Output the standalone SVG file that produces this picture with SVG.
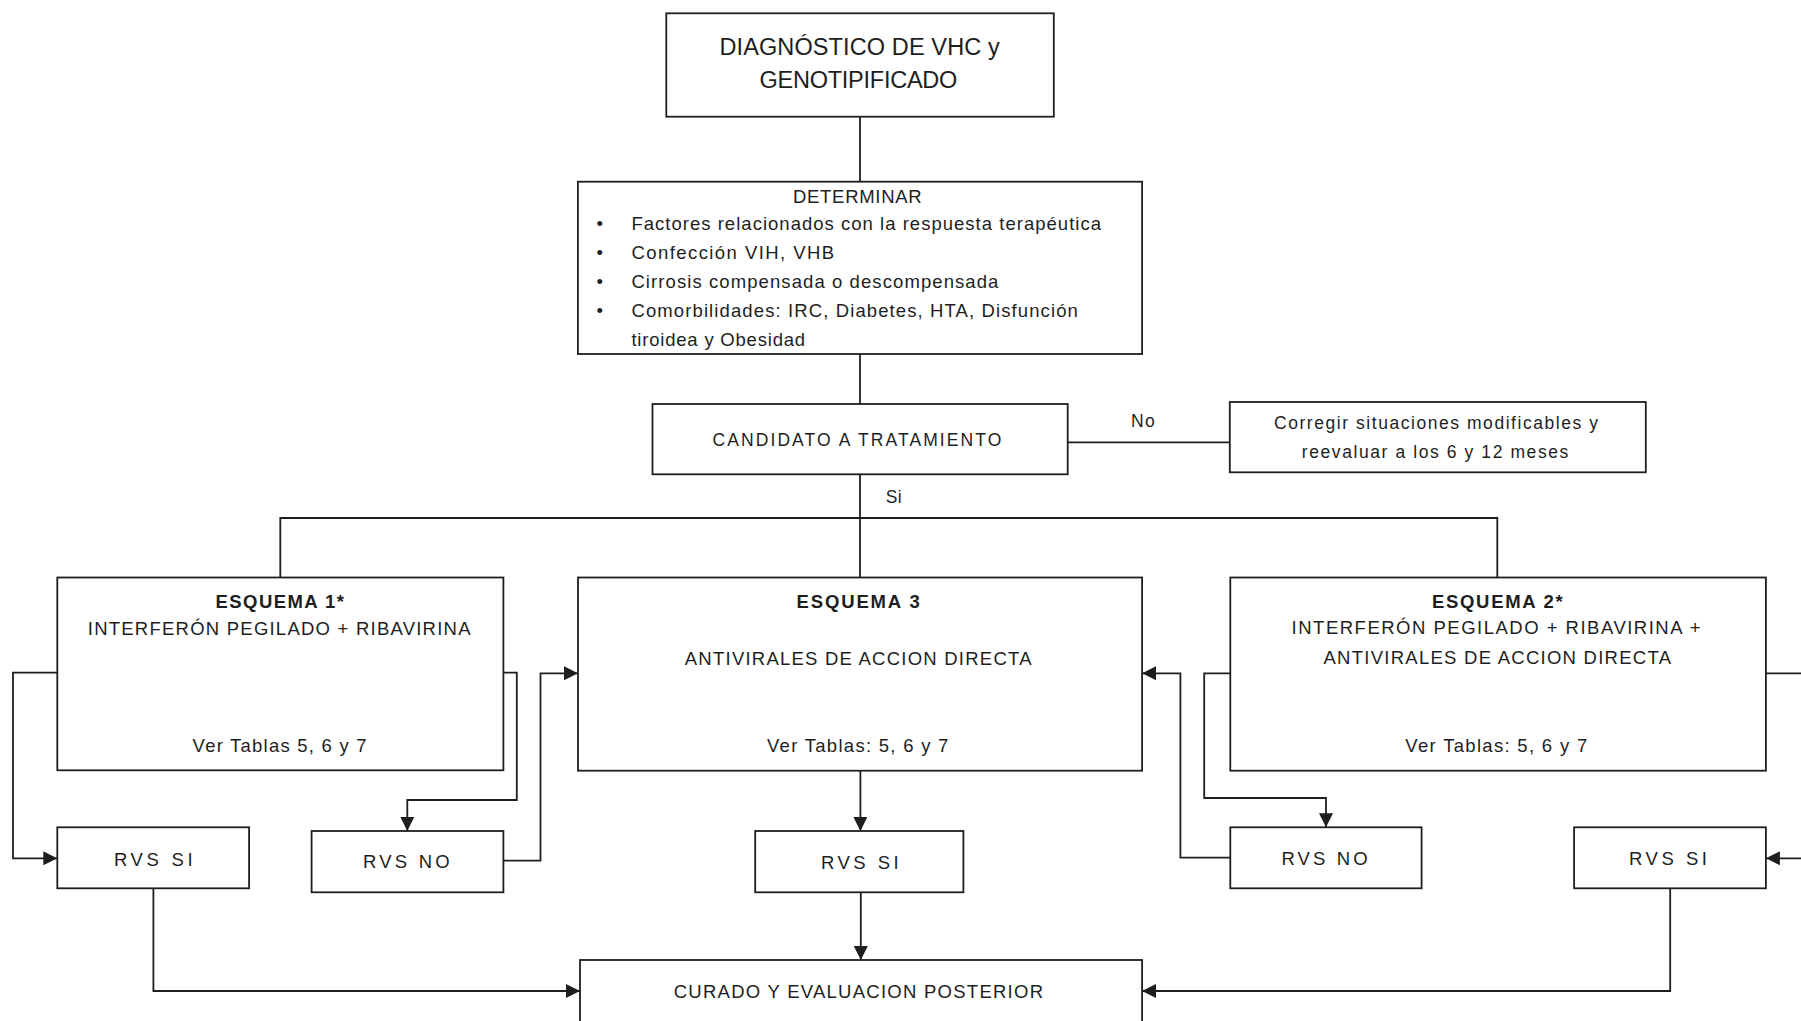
<svg xmlns="http://www.w3.org/2000/svg" width="1801" height="1021" viewBox="0 0 1801 1021">
  <style>
    .box { fill: #ffffff; stroke: #1e1e1e; stroke-width: 1.8; }
    .link { fill: none; stroke: #1e1e1e; stroke-width: 1.8; }
    .arrow { fill: none; stroke: #1e1e1e; stroke-width: 1.8; marker-end: url(#head); }
    text { font-family: "Liberation Sans", Arial, sans-serif; fill: #1e1e1e; }
    .big { font-size: 23.5px; }
    .t { font-size: 18.5px; }
    .s { font-size: 17.5px; }
    .b { font-size: 18.5px; font-weight: bold; }
  </style>
  <defs>
    <marker id="head" markerUnits="userSpaceOnUse" markerWidth="14" markerHeight="14" refX="14" refY="7" orient="auto">
      <path d="M0,0 L14,7 L0,14 z" fill="#1e1e1e"/>
    </marker>
  </defs>
  <rect width="1801" height="1021" fill="#ffffff"/>

  <!-- connectors -->
  <g id="connectors">
    <path class="link" d="M860,117 V182"/>
    <path class="link" d="M860,354 V404"/>
    <path class="link" d="M1067.5,442.3 H1230"/>
    <path class="link" d="M860,474.3 V577.5"/>
    <path class="link" d="M280.3,577.5 V518 H1497.3 V577.5"/>
    <!-- esquema 1 outcomes -->
    <path class="arrow" d="M57.3,672.7 H13 V858.3 H57.3"/>
    <path class="arrow" d="M503.4,672.7 H516.8 V800 H407.3 V831"/>
    <path class="arrow" d="M503.4,860.7 H540.5 V673.3 H578"/>
    <!-- esquema 3 outcomes -->
    <path class="arrow" d="M860.4,770.7 V831"/>
    <path class="arrow" d="M860.8,892.3 V960"/>
    <!-- esquema 2 outcomes -->
    <path class="arrow" d="M1230.3,673.3 H1204.2 V798 H1326 V827.3"/>
    <path class="arrow" d="M1230.3,857.7 H1180.4 V673.3 H1142.1"/>
    <path class="arrow" d="M1765.9,673.3 H1815 V858.3 H1765.9"/>
    <!-- to final evaluation -->
    <path class="arrow" d="M153.4,888.3 V991 H580"/>
    <path class="arrow" d="M1670.2,888.3 V991 H1142.1"/>
  </g>

  <g id="n_diag">
    <rect class="box" x="666.3" y="13.3" width="387.5" height="103.4"/>
    <text class="big" x="719.4" y="55" textLength="280.3">DIAGNÓSTICO DE VHC y</text>
    <text class="big" x="759.6" y="88.3" textLength="197.7">GENOTIPIFICADO</text>
  </g>

  <g id="n_determinar">
    <rect class="box" x="577.9" y="181.7" width="564.2" height="172.3"/>
    <text class="t" x="793" y="202.7" textLength="128.6">DETERMINAR</text>
    <text class="t" x="596.5" y="230">•</text>
    <text class="t" x="631.4" y="230" textLength="469.6">Factores relacionados con la respuesta terapéutica</text>
    <text class="t" x="596.5" y="259">•</text>
    <text class="t" x="631.4" y="259" textLength="202.7">Confección VIH, VHB</text>
    <text class="t" x="596.5" y="288.3">•</text>
    <text class="t" x="631.4" y="288.3" textLength="367">Cirrosis compensada o descompensada</text>
    <text class="t" x="596.5" y="316.7">•</text>
    <text class="t" x="631.4" y="316.7" textLength="446.5">Comorbilidades: IRC, Diabetes, HTA, Disfunción</text>
    <text class="t" x="631.4" y="345.7" textLength="173.7">tiroidea y Obesidad</text>
  </g>

  <g id="n_candidato">
    <rect class="box" x="652.5" y="404" width="415.2" height="70.3"/>
    <text class="s" x="712.6" y="445.7" textLength="288.7">CANDIDATO A TRATAMIENTO</text>
  </g>

  <g id="lbl_no">
    <text class="s" x="1131" y="426.7" textLength="23.7">No</text>
  </g>

  <g id="n_corregir">
    <rect class="box" x="1229.8" y="402" width="416" height="70.3"/>
    <text class="s" x="1274" y="429.3" textLength="324">Corregir situaciones modificables y</text>
    <text class="s" x="1301.8" y="457.7" textLength="266.5">reevaluar a los 6 y 12 meses</text>
  </g>

  <g id="lbl_si">
    <text class="s" x="885.8" y="502.7" textLength="15.8">Si</text>
  </g>

  <g id="n_esquema1">
    <rect class="box" x="57.3" y="577.5" width="446.1" height="192.8"/>
    <text class="b" x="215.5" y="607.7" textLength="128.5">ESQUEMA 1*</text>
    <text class="t" x="87.8" y="635" textLength="382.7">INTERFERÓN PEGILADO + RIBAVIRINA</text>
    <text class="t" x="192.6" y="751.7" textLength="173.9">Ver Tablas 5, 6 y 7</text>
  </g>

  <g id="n_esquema3">
    <rect class="box" x="578" y="577.5" width="564.1" height="193.2"/>
    <text class="b" x="796.5" y="607.7" textLength="123.2">ESQUEMA 3</text>
    <text class="t" x="684.8" y="665" textLength="346.7">ANTIVIRALES DE ACCION DIRECTA</text>
    <text class="t" x="767" y="751.7" textLength="181.4">Ver Tablas: 5, 6 y 7</text>
  </g>

  <g id="n_esquema2">
    <rect class="box" x="1230.3" y="577.5" width="535.6" height="193.2"/>
    <text class="b" x="1431.9" y="607.7" textLength="130.8">ESQUEMA 2*</text>
    <text class="t" x="1291.6" y="634.3" textLength="408.9">INTERFERÓN PEGILADO + RIBAVIRINA +</text>
    <text class="t" x="1323.5" y="664.3" textLength="347.5">ANTIVIRALES DE ACCION DIRECTA</text>
    <text class="t" x="1405.3" y="751.7" textLength="181.9">Ver Tablas: 5, 6 y 7</text>
  </g>

  <g id="n_rvs_si_1">
    <rect class="box" x="57.3" y="827.3" width="191.8" height="61"/>
    <text class="t" x="113.9" y="866" textLength="78.7">RVS SI</text>
  </g>

  <g id="n_rvs_no_1">
    <rect class="box" x="311.6" y="831" width="191.8" height="61.3"/>
    <text class="t" x="363" y="868.3" textLength="86.6">RVS NO</text>
  </g>

  <g id="n_rvs_si_3">
    <rect class="box" x="755.2" y="831" width="208.2" height="61.3"/>
    <text class="t" x="821" y="869.3" textLength="77.7">RVS SI</text>
  </g>

  <g id="n_rvs_no_2">
    <rect class="box" x="1230.3" y="827.3" width="191.3" height="61"/>
    <text class="t" x="1281.4" y="865" textLength="86.3">RVS NO</text>
  </g>

  <g id="n_rvs_si_2">
    <rect class="box" x="1574.1" y="827.3" width="191.8" height="61"/>
    <text class="t" x="1629" y="865" textLength="78">RVS SI</text>
  </g>

  <g id="n_curado">
    <rect class="box" x="580" y="960" width="562.1" height="80"/>
    <text class="t" x="673.7" y="997.7" textLength="369.3">CURADO Y EVALUACION POSTERIOR</text>
  </g>
</svg>
